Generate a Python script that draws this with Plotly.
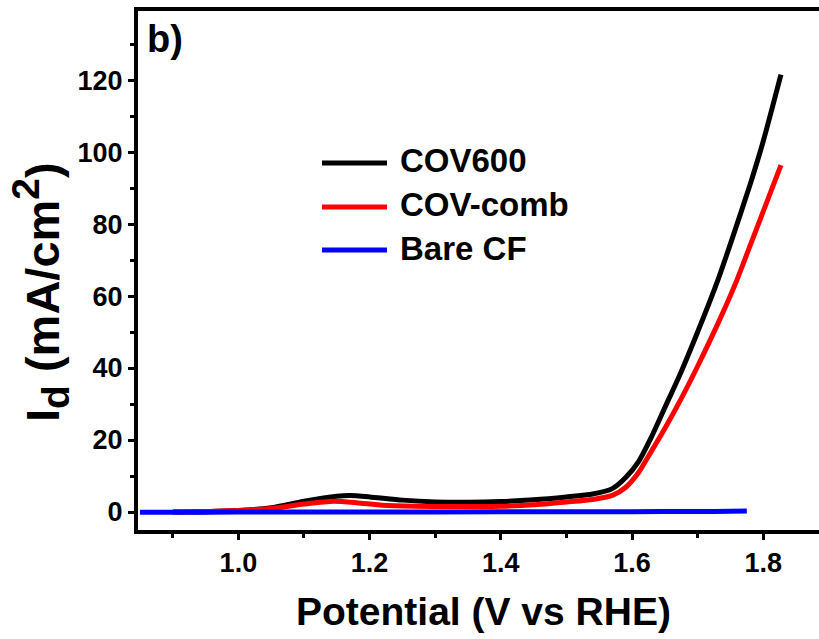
import plotly.graph_objects as go

# ---------------- data ----------------
series_names = ["COV600", "COV-comb", "Bare CF"]
series_colors = ["#000000", "#ff0000", "#0000ff"]

cov600_x = [0.90, 0.95, 1.00, 1.05, 1.10, 1.15, 1.17, 1.20, 1.25, 1.30, 1.35, 1.40,
            1.45, 1.50, 1.54, 1.57, 1.59, 1.61, 1.63, 1.65, 1.675, 1.70, 1.73,
            1.75, 1.78, 1.80, 1.827]
cov600_y = [0.0, 0.1, 0.4, 1.2, 3.0, 4.4, 4.6, 4.2, 3.3, 2.8, 2.7, 2.9,
            3.4, 4.2, 5.0, 6.5, 9.5, 14.0, 21.0, 29.0, 39.0, 50.0, 64.0,
            74.5, 91.0, 103.0, 121.5]

covcomb_x = [0.90, 0.95, 1.00, 1.05, 1.10, 1.145, 1.18, 1.22, 1.27, 1.32, 1.40,
             1.45, 1.50, 1.54, 1.57, 1.59, 1.61, 1.625, 1.65, 1.675, 1.70,
             1.735, 1.76, 1.78, 1.80, 1.827]
covcomb_y = [0.0, 0.1, 0.4, 1.0, 2.2, 3.0, 2.6, 1.9, 1.6, 1.5, 1.6,
             2.0, 2.8, 3.5, 4.6, 6.8, 11.0, 15.5, 23.2, 31.5, 40.5,
             54.0, 64.5, 74.0, 83.5, 96.4]

barecf_x = [0.85, 0.90, 1.00, 1.20, 1.40, 1.60, 1.70, 1.75, 1.775]
barecf_y = [-0.1, -0.1, 0.0, 0.0, 0.05, 0.1, 0.15, 0.2, 0.3]

x_tick_vals = [1.0, 1.2, 1.4, 1.6, 1.8]
y_tick_vals = [0, 20, 40, 60, 80, 100, 120]

x_range = [0.847, 1.885]
y_range = [-5, 139.2]

# ---------------- figure ----------------
W, H = 819, 639
L, R, T, B = 138, 0, 11, 109
PW, PH = W - L - R, H - T - B

def px_x(p):
    return (p - L) / PW

def px_y(p):
    return (H - B - p) / PH

FONT = "Liberation Sans, Arial, Helvetica, sans-serif"

fig = go.Figure()
for name, color, xs, ys in zip(series_names, series_colors,
                               [cov600_x, covcomb_x, barecf_x],
                               [cov600_y, covcomb_y, barecf_y]):
    fig.add_trace(go.Scatter(x=xs, y=ys, mode="lines", name=name,
                             line=dict(color=color, width=5, shape="spline", smoothing=0.6),
                             showlegend=False))

axis_common = dict(showgrid=False, zeroline=False, showline=True, linecolor="black",
                   linewidth=4, ticks="outside", ticklen=6, tickwidth=3, tickcolor="black",
                   tickfont=dict(family=FONT, size=27, color="black", weight="bold"))

fig.update_xaxes(range=x_range, tickvals=x_tick_vals, tickformat=".1f", mirror=True,
                 minor=dict(dtick=0.1, tick0=0.9, ticks="outside", ticklen=4, tickwidth=3,
                            tickcolor="black"),
                 **axis_common)
fig.update_yaxes(range=y_range, tickvals=y_tick_vals,
                 minor=dict(dtick=10, tick0=0, ticks="outside", ticklen=4, tickwidth=3,
                            tickcolor="black"),
                 **axis_common)

annotations = [
    dict(text="b)", x=px_x(145), y=px_y(16), xref="paper", yref="paper",
         xanchor="left", yanchor="top", showarrow=False,
         font=dict(family=FONT, size=38, color="black", weight="bold")),
    dict(text="Potential (V vs RHE)", x=px_x(484), y=px_y(611), xref="paper", yref="paper",
         xanchor="center", yanchor="middle", showarrow=False,
         font=dict(family=FONT, size=39, color="black", weight="bold")),
    dict(text="I<sub><span style='font-size:39px'>d</span></sub> (mA/cm"
              "<sup><span style='font-size:39px'>2</span></sup>)",
         x=px_x(40), y=px_y(292),
         xref="paper", yref="paper", xanchor="center", yanchor="middle",
         textangle=-90, showarrow=False,
         font=dict(family=FONT, size=47, color="black", weight="bold")),
]

shapes = []
legend_rows = [163, 207, 250]
for name, color, ypx in zip(series_names, series_colors, legend_rows):
    shapes.append(dict(type="line", xref="paper", yref="paper",
                       x0=px_x(322), x1=px_x(387), y0=px_y(ypx), y1=px_y(ypx),
                       line=dict(color=color, width=5)))
    annotations.append(dict(text=name, x=px_x(398), y=px_y(ypx - 2), xref="paper", yref="paper",
                            xanchor="left", yanchor="middle", showarrow=False,
                            font=dict(family=FONT, size=33, color="black", weight="bold")))

fig.update_layout(width=W, height=H, margin=dict(l=L, r=R, t=T, b=B),
                  paper_bgcolor="white", plot_bgcolor="white",
                  annotations=annotations, shapes=shapes, showlegend=False)

fig.write_html("out.html")
